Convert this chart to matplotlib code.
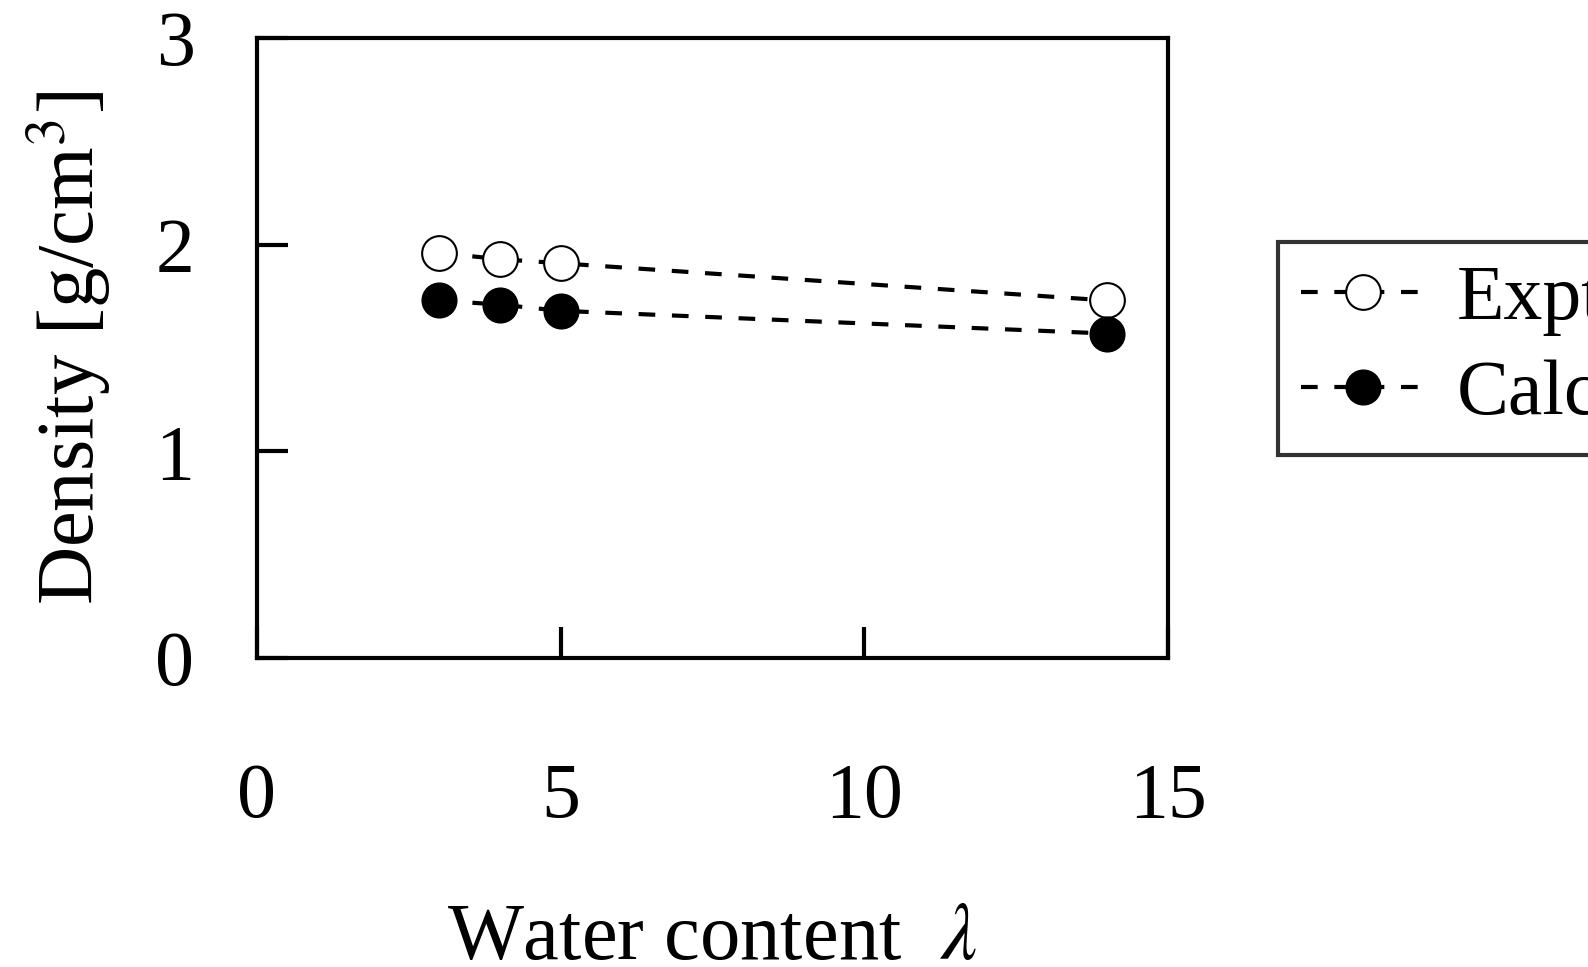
import matplotlib
matplotlib.use("Agg")
import matplotlib.pyplot as plt

# water content vs density
water = [3, 4, 5, 14]
expt = [1.96, 1.93, 1.91, 1.73]
calc = [1.73, 1.71, 1.68, 1.57]

plt.rcParams['font.family'] = ['Liberation Serif', 'DejaVu Serif']
plt.rcParams['mathtext.fontset'] = 'stix'

fig = plt.figure(figsize=(15.88, 9.67), dpi=100)
ax = fig.add_axes([0.1618, 0.3195, 0.5737, 0.6412])

ax.plot(water, expt, ls=(0, (4, 4)), color='black', lw=3, marker='o', ms=25,
        mfc='white', mec='black', mew=1.5, label='Expt.')
ax.plot(water, calc, ls=(0, (4, 4)), color='black', lw=3, marker='o', ms=25,
        mfc='black', mec='black', label='Calc.')

ax.set_xlim(0, 15)
ax.set_ylim(0, 3)
ax.set_xticks([0, 5, 10, 15])
ax.set_yticks([0, 1, 2, 3])
ax.tick_params(direction='in', length=22, width=3, labelsize=56, pad=75)
ax.tick_params(axis='y', pad=45)
for s in ax.spines.values():
    s.set_linewidth(3)

ax.set_xlabel(r'Water content  $\lambda$', fontsize=58, labelpad=50)
ax.set_ylabel(r'Density [g/cm$^3$]', fontsize=58, labelpad=30)

leg = ax.legend(loc='center left', bbox_to_anchor=(1.078, 0.5), fontsize=56,
                frameon=True, fancybox=False, edgecolor='black',
                handlelength=1.6, handletextpad=0.4, borderpad=0.3,
                labelspacing=0.3)
leg.get_frame().set_linewidth(3)

fig.savefig('out.png', dpi=100)
